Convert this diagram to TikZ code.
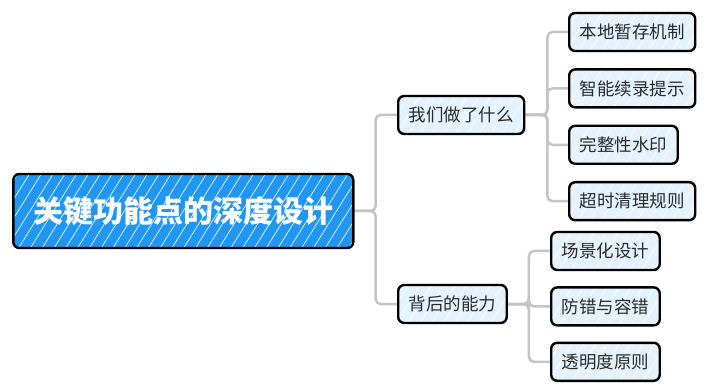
\documentclass[tikz,border=0pt]{standalone}
\usepackage{fontspec}
\setmainfont{Noto Sans CJK SC}
\usetikzlibrary{positioning,patterns.meta,backgrounds}

\definecolor{rootblue}{HTML}{2196F3}
\definecolor{leafblue}{HTML}{E3F2FD}
\definecolor{linkgrey}{HTML}{C4C4C4}
\definecolor{inkgrey}{HTML}{2B2B2B}

\begin{document}
\begin{tikzpicture}[x=1pt,y=1pt,font=\fontsize{17.5}{20}\selectfont,node distance=16pt]
  \tikzstyle{sketch}=[rectangle,rounded corners=6pt,draw=black,line width=2.4pt,
    pattern={Lines[angle=58,distance=10pt,line width=0.6pt]},pattern color=white]
  \tikzstyle{topic}=[sketch,preaction={fill=leafblue},text=inkgrey,
    inner xsep=10.5pt,minimum height=38pt]
  \tikzstyle{rootbox}=[sketch,preaction={fill=rootblue},text=white,
    font=\fontsize{30}{34}\selectfont\bfseries,minimum width=340pt,minimum height=74pt]
  \tikzstyle{link}=[draw=linkgrey,line width=2.5pt,rounded corners=5pt]
  \useasboundingbox (0,0) rectangle (709,391);
  % main topic and branches
  \node[rootbox,anchor=west] (core) at (13,180) {关键功能点的深度设计};
  \node[topic,anchor=west] (what) at (397,276) {我们做了什么};
  \node[topic,anchor=west] (ability) at (397,87) {背后的能力};
  % leaves of the first branch
  \node[topic,anchor=west] (cache) at (568,359) {本地暂存机制};
  \node[topic] (resume) [below=16pt of cache.south west,anchor=north west] {智能续录提示};
  \node[topic] (mark) [below=16pt of resume.south west,anchor=north west] {完整性水印};
  \node[topic] (purge) [below=16pt of mark.south west,anchor=north west] {超时清理规则};
  % leaves of the second branch
  \node[topic,anchor=west] (scene) at (550,140) {场景化设计};
  \node[topic] (guard) [below=15pt of scene.south west,anchor=north west] {防错与容错};
  \node[topic] (clear) [below=15pt of guard.south west,anchor=north west] {透明度原则};
  \begin{scope}[on background layer]
    \draw[link] (core.east) -- ++(22,0) |- (what.west);
    \draw[link] (core.east) -- ++(22,0) |- (ability.west);
    \draw[link] (what.east) -- ++(22,0) |- (cache.west);
    \draw[link] (what.east) -- ++(22,0) |- (resume.west);
    \draw[link] (what.east) -- ++(22,0) |- (mark.west);
    \draw[link] (what.east) -- ++(22,0) |- (purge.west);
    \draw[link] (ability.east) -- ++(21,0) |- (scene.west);
    \draw[link] (ability.east) -- ++(21,0) |- (guard.west);
    \draw[link] (ability.east) -- ++(21,0) |- (clear.west);
  \end{scope}
\end{tikzpicture}
\end{document}
